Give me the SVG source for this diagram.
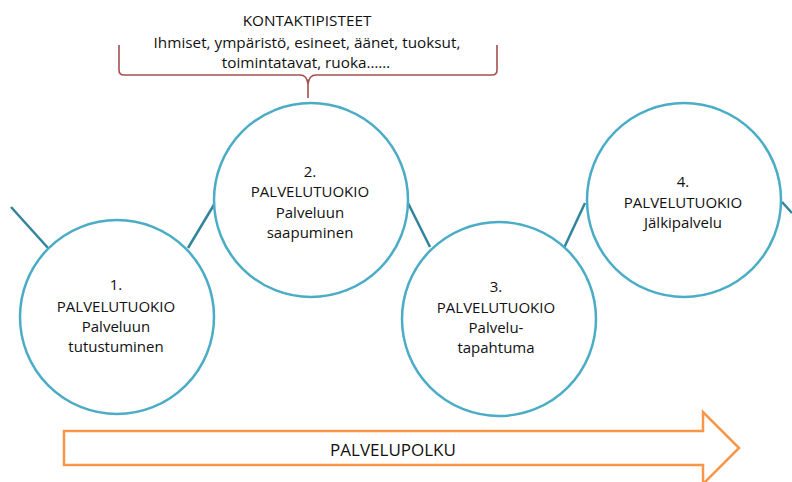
<svg xmlns="http://www.w3.org/2000/svg" width="792" height="482" viewBox="0 0 792 482">
  <style>
    .step { fill: #ffffff; stroke: #4BACC6; stroke-width: 2.5; }
    .link { stroke: #31849B; stroke-width: 2.5; fill: none; }
    .brace { stroke: #A5504E; stroke-width: 1.6; fill: none; }
    .path { fill: #ffffff; stroke: #F79646; stroke-width: 2.5; }
    text { font-family: "Open Sans", "Liberation Sans", sans-serif; fill: #111111; text-anchor: middle; }
    .lbl { font-size: 15px; }
    .top { font-size: 15.3px; }
    .big { font-size: 17px; }
  </style>

  <rect width="792" height="482" fill="#ffffff"/>

  <!-- connectors between the touchpoints -->
  <g id="connectors">
    <line class="link" x1="11" y1="207" x2="48" y2="248"/>
    <line class="link" x1="188" y1="248" x2="215" y2="203"/>
    <line class="link" x1="408" y1="203" x2="430" y2="247"/>
    <line class="link" x1="564" y1="248" x2="585" y2="203"/>
    <line class="link" x1="782" y1="202" x2="792" y2="213"/>
  </g>

  <!-- contact points heading with curly brace -->
  <g id="contact-points">
    <path class="brace" d="M119,45 L119,70 Q119,75 124,75 L300,75 Q307,75 308,84 L308,98"/>
    <path class="brace" d="M497,45 L497,70 Q497,75 492,75 L316,75 Q309,75 308,84"/>
    <text class="top" x="307" y="26">KONTAKTIPISTEET</text>
    <text class="top" x="307" y="48">Ihmiset, ympäristö, esineet, äänet, tuoksut,</text>
    <text class="top" x="306" y="68">toimintatavat, ruoka……</text>
  </g>

  <g id="step1">
    <circle class="step" cx="117" cy="317" r="97"/>
    <text class="lbl" x="116" y="290">1.</text>
    <text class="lbl" x="116" y="312">PALVELUTUOKIO</text>
    <text class="lbl" x="116" y="332">Palveluun</text>
    <text class="lbl" x="116" y="352">tutustuminen</text>
  </g>

  <g id="step2">
    <circle class="step" cx="311" cy="200" r="97"/>
    <text class="lbl" x="310" y="177">2.</text>
    <text class="lbl" x="310" y="197">PALVELUTUOKIO</text>
    <text class="lbl" x="310" y="218">Palveluun</text>
    <text class="lbl" x="310" y="238">saapuminen</text>
  </g>

  <g id="step3">
    <circle class="step" cx="499" cy="319" r="97"/>
    <text class="lbl" x="496" y="292">3.</text>
    <text class="lbl" x="496" y="313">PALVELUTUOKIO</text>
    <text class="lbl" x="496" y="333">Palvelu-</text>
    <text class="lbl" x="496" y="353">tapahtuma</text>
  </g>

  <g id="step4">
    <circle class="step" cx="684" cy="200" r="97"/>
    <text class="lbl" x="683" y="187">4.</text>
    <text class="lbl" x="683" y="208">PALVELUTUOKIO</text>
    <text class="lbl" x="683" y="228">Jälkipalvelu</text>
  </g>

  <!-- service path arrow -->
  <g id="service-path">
    <path class="path" d="M64,431 L703,431 L703,412 L739,448 L703,484 L703,465 L64,465 Z"/>
    <text class="big" x="393" y="456">PALVELUPOLKU</text>
  </g>
</svg>
